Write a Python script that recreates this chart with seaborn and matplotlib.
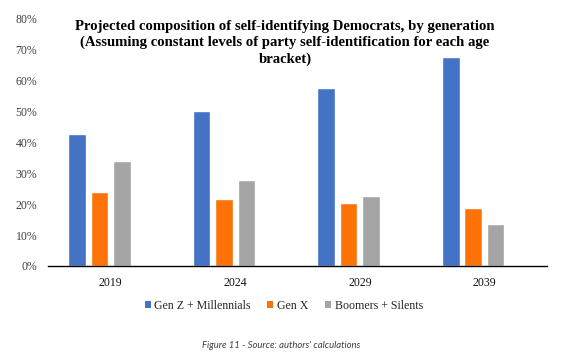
import matplotlib
matplotlib.use('Agg')
import matplotlib.pyplot as plt
from matplotlib.patches import Patch
import seaborn as sns
import pandas as pd

years = ['2019', '2024', '2029', '2039']
series = ['Gen Z + Millennials', 'Gen X', 'Boomers + Silents']
gen_z_millennials = [42.8, 50.1, 57.6, 67.6]
gen_x = [23.8, 21.7, 20.2, 18.6]
boomers_silents = [33.8, 27.8, 22.5, 13.7]
colors = ['#4472C4', '#FD7308', '#A5A5A5']

# long format table for seaborn
rows = []
for name, vals in zip(series, [gen_z_millennials, gen_x, boomers_silents]):
    for y, v in zip(years, vals):
        rows.append({'year': y, 'series': name, 'share': v / 100})
df = pd.DataFrame(rows)

sns.set_theme(style="white")
plt.rcParams['font.family'] = ['Liberation Serif', 'DejaVu Serif']

fig = plt.figure(figsize=(5.62, 3.61), dpi=100)
ax = fig.add_axes([0.0859, 0.2632, 0.887, 0.6856])

# the original Excel chart leaves room for an empty 4th series in each group
hue_order = series + ['(empty)']
sns.barplot(data=df, x='year', y='share', hue='series', hue_order=hue_order,
            order=years, palette=colors + ['#FFFFFF'], width=0.72, gap=0.22,
            saturation=1, legend=False, ax=ax)

ax.set_ylim(0, 0.8)
ax.set_yticks([i / 10 for i in range(9)])
ax.set_yticklabels([f'{i * 10}%' for i in range(9)])
ax.set_xlabel('')
ax.set_ylabel('')
ax.tick_params(axis='both', length=0, labelsize=8.5)
ax.tick_params(axis='y', pad=8, labelcolor='#404040')
ax.tick_params(axis='x', pad=8, labelcolor='#111111')
for side in ['top', 'right', 'left']:
    ax.spines[side].set_visible(False)
ax.spines['bottom'].set_color('black')
ax.spines['bottom'].set_linewidth(1.0)
ax.grid(False)

fig.text(0.507, 0.881,
         'Projected composition of self-identifying Democrats, by generation\n'
         '(Assuming constant levels of party self-identification for each age\n'
         'bracket)',
         ha='center', va='center', fontsize=10.6, fontweight='bold',
         linespacing=1.25, color='black')

handles = [Patch(facecolor=c, edgecolor='none') for c in colors]
fig.legend(handles, series, loc='center', bbox_to_anchor=(0.505, 0.153),
           ncol=3, frameon=False, fontsize=8.6, handlelength=0.5,
           handleheight=0.5, handletextpad=0.3, columnspacing=1.4)

fig.text(0.5, 0.042, "Figure 11 - Source: authors' calculations",
         ha='center', va='center', fontsize=6.8, style='italic',
         color='#404040', family=['Lato', 'DejaVu Sans'])

fig.savefig('out.png', dpi=100)
plt.close(fig)
